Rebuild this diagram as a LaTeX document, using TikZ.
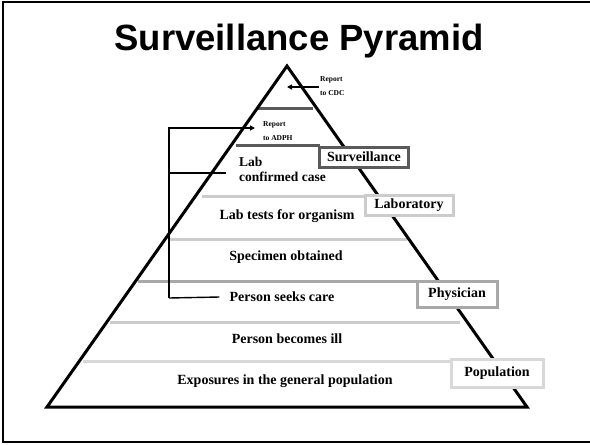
\documentclass[tikz,border=0pt]{standalone}
\usepackage{fontspec}
\setmainfont{Liberation Serif}
\newfontfamily\titlefont{Liberation Sans}
\usetikzlibrary{arrows.meta}
\usetikzlibrary{positioning}

\definecolor{darkrule}{HTML}{5A5A5A}
\definecolor{midrule}{HTML}{A8A8A8}
\definecolor{lightrule}{HTML}{CCCCCC}
\definecolor{palerule}{HTML}{D8D8D8}

\tikzset{
  tier/.style={font=\bfseries\fontsize{14}{15}\selectfont, inner sep=0pt},
  note/.style={font=\bfseries\fontsize{7.5}{14}\selectfont, align=left, inner sep=0pt},
  rolebox/.style={draw, line width=3pt, fill=white, inner sep=0pt,
                  font=\bfseries\fontsize{14}{15}\selectfont},
  bracket/.style={line width=1.4pt},
}

\begin{document}
\begin{tikzpicture} [x=1pt, y=-1pt]

\useasboundingbox (0,0) rectangle (590,445);
\draw[line width=2.5pt] (592,2) -- (3,2) -- (3,442) -- (592,442);

\node[font=\titlefont\bfseries\fontsize{36.5}{40}\selectfont, anchor=base] (title) at (299,50) {Surveillance Pyramid};

% tiers of the pyramid
\foreach \y/\a/\b/\c in {108/258/313/darkrule, 145/236/320/darkrule, 196/202/365/lightrule,
   239/168/407/lightrule, 281/138/417/midrule, 322/110/460/lightrule, 361/83/451/palerule}
 \draw[\c, line width=3pt] (\a,\y) -- (\b,\y);

\coordinate (apex) at (287,66);
\draw[line width=3pt, line join=miter] (apex) -- (527,407) -- (47,407) -- cycle;

\node[rolebox, draw=darkrule, minimum width=89pt, minimum height=20pt] (surv) at (364,157) {Surveillance};
\node[rolebox, draw=lightrule, minimum width=88pt, minimum height=20pt] (lab) at (409,205.5) {Laboratory};
\node[rolebox, draw=midrule, minimum width=80pt, minimum height=26pt] (phys) at (457,294) {Physician};
\node[rolebox, draw=palerule, minimum width=92pt, minimum height=28pt] (popu) at (497,373) {Population};

\node[note, anchor=west] (cdc) at (320,86) {Report\\to CDC};
\node[note, anchor=west] (adph) at (263,131) {Report\\to ADPH};
\node[tier, anchor=west, align=left, font=\bfseries\fontsize{13.5}{15}\selectfont] (conf) at (239,169) {Lab\\confirmed case};
\node[tier] (tests) at (287,216) {Lab tests for organism};
\node[tier] (spec) at (286,257) {Specimen obtained};
\node[tier] (seeks) at (282,297) {Person seeks care};
\node[tier] (ill) at (287,339) {Person becomes ill};
\node[tier] (expo) at (285,381) {Exposures in the general population};

% reporting arrows
\draw[bracket, -{Triangle[width=5pt,length=5pt]}] ([xshift=-1pt]cdc.west |- 0,87) -- (apex |- 0,87);
\coordinate (corner) at (169,298);
\draw[bracket] ([xshift=-10pt]seeks.west) -- (corner);
\draw[bracket, -{Triangle[width=5pt,length=5pt]}] (corner) -- (169,128) -- ([xshift=-8pt]adph.west |- 0,128);
\draw[bracket] (169,173) -- ([xshift=-13pt]conf.west |- 0,173);

\end{tikzpicture}
\end{document}
